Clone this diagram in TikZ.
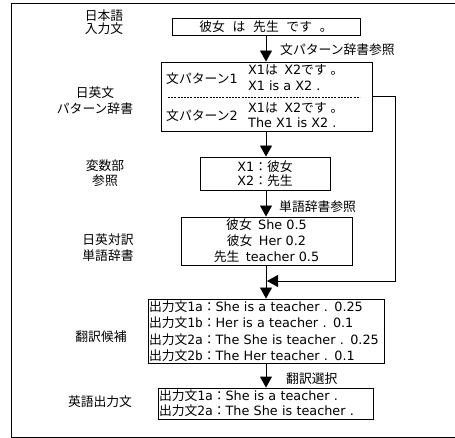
\documentclass[tikz,border=0pt]{standalone}
\usepackage{fontspec}
\setmainfont{DejaVu Sans}
\newfontfamily\jpf{Noto Sans CJK JP}
\newfontfamily\monof{DejaVu Sans Mono}
\newcommand{\J}[1]{{\jpf #1}}
\newcommand{\M}[1]{{\monof #1}}
\usetikzlibrary{arrows.meta}
\begin{document}
\begin{tikzpicture}[x=1pt,y=-1pt,
  every node/.style={inner sep=0pt, font=\fontsize{12.8}{16}\selectfont},
  box/.style={draw, line width=0.9pt, align=center},
  lbox/.style={draw, line width=0.9pt, align=left, inner xsep=1pt},
  arr/.style={line width=0.9pt, -{Triangle[width=12pt,length=11pt]}},
  lab/.style={align=center},
  note/.style={anchor=west},
  ptxt/.style={anchor=west},
  frame/.style={draw, line width=1pt}]
\useasboundingbox (0,0) rectangle (455,438);
\draw[frame] (11,4) rectangle (470,437);

% left labels
\node[lab, font=\fontsize{12.8}{13}\selectfont] (s1) at (104,22) {\J{日本語}\\\J{入力文}};
\node[lab] (s2) at (95,101) {\J{日英文}\\\J{パターン辞書}};
\node[lab, font=\fontsize{12.8}{15}\selectfont] (s3) at (105,173.5) {\J{変数部}\\\J{参照}};
\node[lab] (s4) at (108,248) {\J{日英対訳}\\\J{単語辞書}};
\node[lab] (s5) at (101,337) {\J{翻訳候補}};
\node[lab] (s6) at (100,402) {\J{英語出力文}};

% boxes
\node[box, minimum width=188pt, minimum height=17pt] (in) at (266,26.5) {\J{彼女}\hspace{0.6em}\J{は}\hspace{0.6em}\J{先生}\hspace{0.6em}\J{です}\hspace{0.6em}\J{。}};
\node[box, minimum width=211pt, minimum height=69pt] (pat) at (266.5,96.5) {};
\node[box, minimum width=130pt, minimum height=33pt, font=\fontsize{12.8}{14}\selectfont] (var) at (265,173.5) {X1\J{：彼女}\\X2\J{：先生}};
\node[box, minimum width=171pt, minimum height=48pt] (dict) at (266.5,241) {\J{彼女}\hspace{0.5em}She 0.5\\\J{彼女}\hspace{0.5em}Her 0.2\\\J{先生}\hspace{0.5em}teacher 0.5};
\node[lbox, text width=234pt, minimum height=64pt, font=\fontsize{12.8}{16.5}\selectfont] (cand) at (266,331) {\J{出力文}\M{1a}\J{：}She is a teacher . 0.25\\\J{出力文}\M{1b}\J{：}Her is a teacher . 0.1\\\J{出力文}\M{2a}\J{：}The She is teacher . 0.25\\\J{出力文}\M{2b}\J{：}The Her teacher . 0.1};
\node[lbox, text width=213pt, minimum height=31pt, font=\fontsize{12.8}{15}\selectfont] (out) at (265.5,403.5) {\J{出力文}\M{1a}\J{：}She is a teacher .\\\J{出力文}\M{2a}\J{：}The She is teacher .};

% pattern dictionary contents
\node[ptxt] (p1) at (166,79) {\J{文パターン}1};
\node[ptxt] (p1a) at (248,70) {X1\J{は}\hspace{0.5em}X2\J{です}\hspace{0.3em}\J{。}};
\node[ptxt] (p1b) at (248,86) {X1 is a X2 .};
\node[ptxt] (p2) at (166,116) {\J{文パターン}2};
\node[ptxt] (p2a) at (248,108) {X1\J{は}\hspace{0.5em}X2\J{です}\hspace{0.3em}\J{。}};
\node[ptxt] (p2b) at (248,123) {The X1 is X2 .};
\coordinate (dl) at (168,97);
\coordinate (dr) at (360,97);
\draw[line width=0.6pt, dash pattern=on 2pt off 1.2pt] (dl) -- (dr);

% arrows
\draw[arr] (in.south) -- (in.south |- pat.north);
\draw[arr] (in.south |- pat.south) -- (in.south |- var.north);
\draw[arr] (in.south |- var.south) -- (in.south |- dict.north);
\draw[arr] (in.south |- dict.south) -- (in.south |- cand.north);
\draw[arr] (in.south |- cand.south) -- (in.south |- out.north);

% feedback from pattern dictionary
\coordinate (fbc) at (395,281);
\coordinate (fb) at (267,281);
\draw[arr] (pat.east) -| (fbc) -- (fb);

% arrow labels
\node[note] (l1) at (280,50) {\J{文パターン辞書参照}};
\node[note] (l2) at (279,207) {\J{単語辞書参照}};
\node[note] (l3) at (286,379) {\J{翻訳選択}};
\end{tikzpicture}
\end{document}
